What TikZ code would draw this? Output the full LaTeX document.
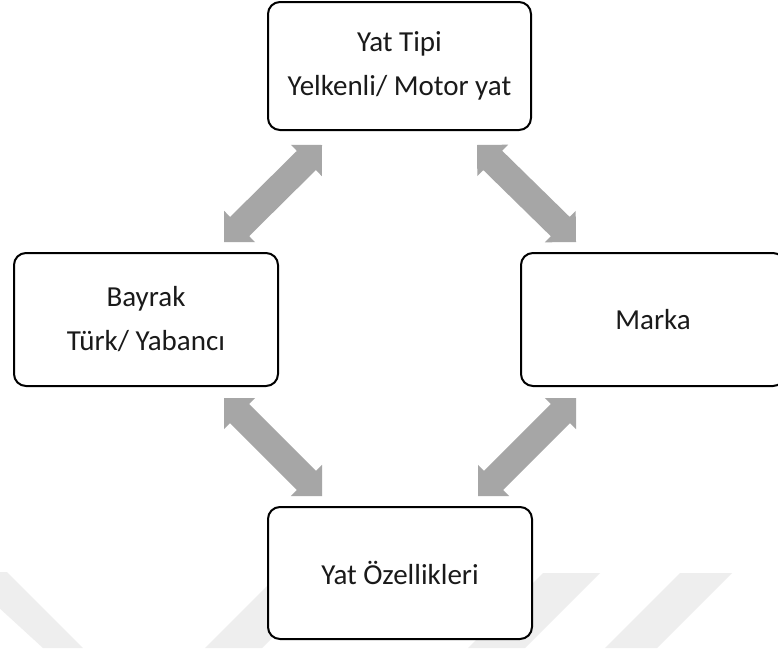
\documentclass[tikz,border=0pt]{standalone}
\usepackage{fontspec}
\setmainfont{Carlito}
\usetikzlibrary{calc}
\definecolor{arrowgray}{HTML}{A6A6A6}
\definecolor{wmgray}{HTML}{EEEEEE}
\definecolor{textdark}{HTML}{1A1A1A}
\tikzset{
  box/.style={draw=black, line width=2pt, rounded corners=12pt, fill=white,
    text=textdark, align=center, inner sep=0pt,
    font=\fontsize{29}{44}\selectfont},
  wm/.style={fill=wmgray, draw=none}
}
% double block arrow between two named coordinates
\newcommand{\dblblockarrow}[2]{%
  \fill[arrowgray] (#1)
    -- ($(#1)!22pt!(#2)!22pt!90:(#2)$)
    -- ($(#1)!22pt!(#2)!13.5pt!90:(#2)$)
    -- ($(#2)!22pt!(#1)!13.5pt!-90:(#1)$)
    -- ($(#2)!22pt!(#1)!22pt!-90:(#1)$)
    -- (#2)
    -- ($(#2)!22pt!(#1)!22pt!90:(#1)$)
    -- ($(#2)!22pt!(#1)!13.5pt!90:(#1)$)
    -- ($(#1)!22pt!(#2)!13.5pt!-90:(#2)$)
    -- ($(#1)!22pt!(#2)!22pt!-90:(#2)$)
    -- cycle;}
\begin{document}
\begin{tikzpicture}[x=1pt, y=-1pt]
  \clip (0,0) rectangle (778,648);
  \fill[white] (0,0) rectangle (778,648);
  % faint watermark bands
  \fill[wm] (-40,572) -- (7,572) -- (83,648) -- (43,648) -- cycle;
  \fill[wm] (205,648) -- (262,648) -- (337,573) -- (280,573) -- cycle;
  \fill[wm] (468,648) -- (525,648) -- (600,573) -- (543,573) -- cycle;
  \fill[wm] (605,648) -- (657,648) -- (732,573) -- (680,573) -- cycle;
  % boxes
  \node[box, minimum width=263pt, minimum height=128pt] (tip) at (399.5,66)
    {Yat Tipi\\Yelkenli/ Motor yat};
  \node[box, minimum width=264pt, minimum height=133pt] (bayrak) at (146,319.5)
    {Bayrak\\Türk/ Yabancı};
  \node[box, minimum width=264pt, minimum height=133pt] (marka) at (653,319.5)
    {Marka};
  \node[box, minimum width=264pt, minimum height=132pt] (ozel) at (400,573)
    {Yat Özellikleri};
  % arrow end points
  \coordinate (a1s) at (322,145); \coordinate (a1e) at (224,242);
  \coordinate (a2s) at (477,145); \coordinate (a2e) at (576,242);
  \coordinate (a3s) at (224,398); \coordinate (a3e) at (322,496);
  \coordinate (a4s) at (576,398); \coordinate (a4e) at (478,496);
  \dblblockarrow{a1s}{a1e}
  \dblblockarrow{a2s}{a2e}
  \dblblockarrow{a3s}{a3e}
  \dblblockarrow{a4s}{a4e}
\end{tikzpicture}
\end{document}
